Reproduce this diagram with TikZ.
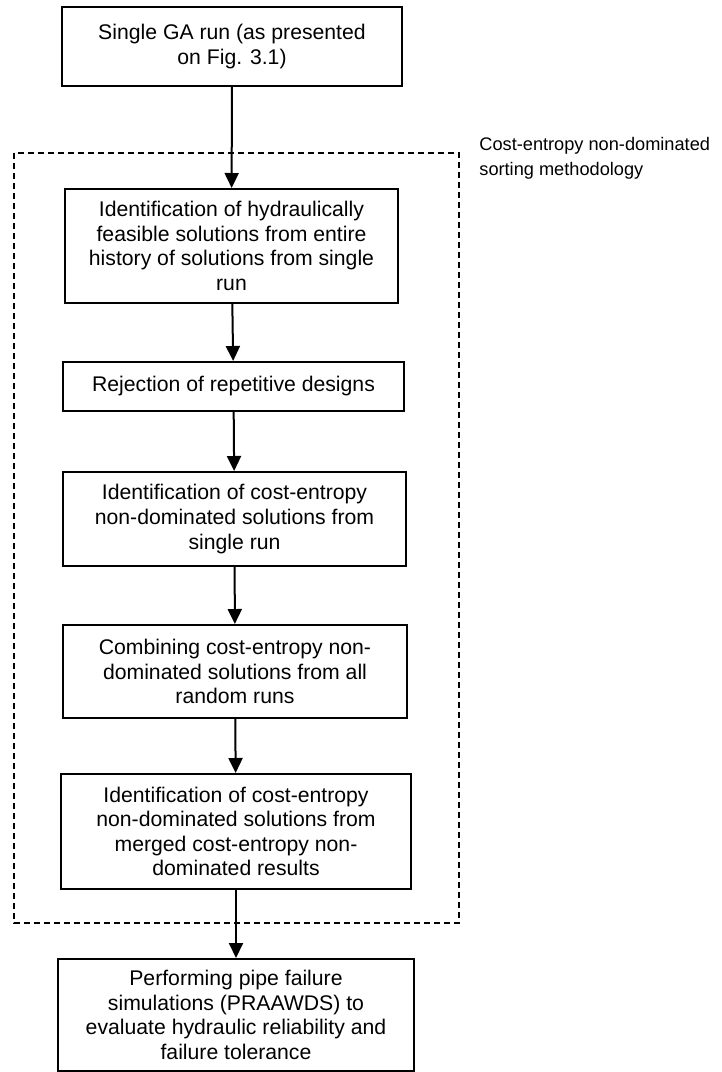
\documentclass[tikz,border=0pt]{standalone}
\usepackage{fontspec}
\setmainfont{Liberation Sans}
\usetikzlibrary{arrows.meta}

\begin{document}
\begin{tikzpicture}[x=0.5pt, y=-0.5pt,
    box/.style={draw, line width=1pt, align=center, inner sep=0pt, font=\fontsize{10.6}{12.3}\selectfont},
    flow/.style={-{Triangle[width=7pt,length=7.5pt]}, line width=1pt}]
                \useasboundingbox (0,0) rectangle (722,1072);

                \draw[line width=0.8pt, dash pattern=on 3pt off 2pt] (14,153) rectangle (459,923);
                \node[anchor=north west, align=left, inner sep=0pt, font=\fontsize{9.1}{12.4}\selectfont] (sortlabel) at (479,137) {Cost-entropy non-dominated\\sorting methodology};

                \node[box, minimum width=170pt, minimum height=39.5pt] (ga) at (232,46.5) {Single GA run (as presented\\on Fig. 3.1)};
                \node[box, minimum width=166.5pt, minimum height=57pt] (feas) at (231.5,246) {Identification of hydraulically\\feasible solutions from entire\\history of solutions from single\\run};
                \node[box, minimum width=170.5pt, minimum height=24.5pt] (rej) at (233.5,386.5) {Rejection of repetitive designs};
                \node[box, minimum width=171.5pt, minimum height=47pt] (ndsingle) at (234.5,519) {Identification of cost-entropy\\non-dominated solutions from\\single run};
                \node[box, minimum width=172pt, minimum height=46.5pt] (comb) at (235,671.5) {Combining cost-entropy non-\\dominated solutions from all\\random runs};
                \node[box, minimum width=175pt, minimum height=57.5pt] (ndmerged) at (236,831.5) {Identification of cost-entropy\\non-dominated solutions from\\merged cost-entropy non-\\dominated results};
                \node[box, minimum width=178pt, minimum height=56pt] (sim) at (236,1015) {Performing pipe failure\\simulations (PRAAWDS) to\\evaluate hydraulic reliability and\\failure tolerance};

                \draw[flow] (ga) -- (feas);
                \draw[flow] (feas) -- (rej);
                \draw[flow] (rej) -- (ndsingle);
                \draw[flow] (ndsingle) -- (comb);
                \draw[flow] (comb) -- (ndmerged);
                \draw[flow] (ndmerged) -- (sim);
\end{tikzpicture}
\end{document}
